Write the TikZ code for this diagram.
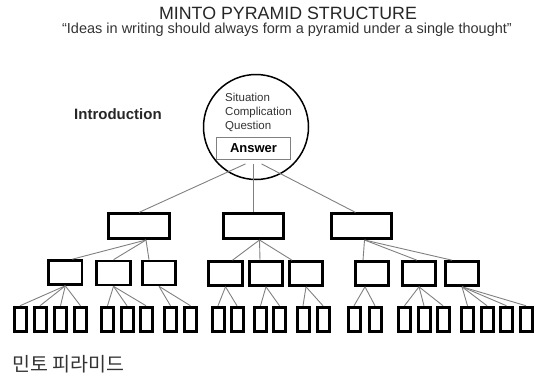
\documentclass[tikz,border=0pt]{standalone}
\usepackage{fontspec}
\setmainfont{Liberation Sans}
\newfontfamily\krfont{Noto Sans CJK KR}
\tikzset{every node/.style={inner sep=0pt},
  bigbox/.style={draw, line width=2.6pt, minimum width=60.5pt, minimum height=25pt},
  midbox/.style={draw, line width=2.6pt, minimum width=33.5pt, minimum height=24pt},
  leafbox/.style={draw, line width=3pt, minimum width=12pt, minimum height=24.5pt},
  link/.style={draw=black!50, line width=0.9pt}}

\begin{document}
\begin{tikzpicture}[x=1pt,y=-1pt]
   \useasboundingbox (0,0) rectangle (541,378);
   \node[font=\fontsize{17.8}{20}\selectfont, text=black!85] (title) at (288,13) {MINTO PYRAMID STRUCTURE};
   \node[font=\fontsize{14.5}{16}\selectfont, text=black!80, anchor=base] (motto) at (287,33.3)
        {“Ideas in writing should always form a pyramid under a single thought”};
   \node[font=\fontsize{15}{17}\selectfont\bfseries, text=black!85, anchor=base west] (intro) at (74,119) {Introduction};
   \node[font=\krfont\fontsize{19.5}{22}\selectfont, text=black!80, anchor=west] (kr) at (12,364.5) {민토 피라미드};

   \node[circle, draw, line width=1.5pt, minimum size=105pt] (top) at (256,127) {};
   \node[font=\fontsize{11.5}{14}\selectfont, text=black!80, align=left, anchor=west] (scq) at (225,112)
        {Situation\\Complication\\Question};
   \node[draw=black!50, line width=0.8pt, minimum width=74pt, minimum height=22pt,
         font=\fontsize{13}{15}\selectfont\bfseries] (ans) at (253.5,148.5) {Answer};

   \node[bigbox] (a) at (139.0,226.2) {};
   \node[bigbox] (b) at (253.5,226.2) {};
   \node[bigbox] (c) at (361.5,226.2) {};

   \node[midbox] (a1) at ( 65.3,272.5) {};
   \node[midbox] (a2) at (113.5,273.0) {};
   \node[midbox] (a3) at (159.0,273.0) {};
   \node[midbox] (b1) at (225.5,273.5) {};
   \node[midbox] (b2) at (266.0,273.5) {};
   \node[midbox] (b3) at (306.0,273.5) {};
   \node[midbox] (c1) at (372.0,273.5) {};
   \node[midbox] (c2) at (419.0,273.5) {};
   \node[midbox] (c3) at (462.0,273.5) {};

   \node[leafbox] (a11) at ( 20.0,319.5) {};
   \node[leafbox] (a12) at ( 40.0,319.5) {};
   \node[leafbox] (a13) at ( 60.5,319.5) {};
   \node[leafbox] (a14) at ( 80.5,319.5) {};
   \node[leafbox] (a21) at (107.5,319.5) {};
   \node[leafbox] (a22) at (127.0,319.5) {};
   \node[leafbox] (a23) at (146.0,319.5) {};
   \node[leafbox] (a31) at (170.5,319.5) {};
   \node[leafbox] (a32) at (190.5,319.5) {};
   \node[leafbox] (b11) at (218.0,319.5) {};
   \node[leafbox] (b12) at (237.0,319.5) {};
   \node[leafbox] (b21) at (260.5,319.5) {};
   \node[leafbox] (b22) at (279.5,319.5) {};
   \node[leafbox] (b31) at (303.0,319.5) {};
   \node[leafbox] (b32) at (323.0,319.5) {};
   \node[leafbox] (c11) at (354.0,319.5) {};
   \node[leafbox] (c12) at (375.0,319.5) {};
   \node[leafbox] (c21) at (404.5,319.5) {};
   \node[leafbox] (c22) at (424.0,319.5) {};
   \node[leafbox] (c23) at (443.0,319.5) {};
   \node[leafbox] (c31) at (467.5,319.5) {};
   \node[leafbox] (c32) at (487.0,319.5) {};
   \node[leafbox] (c33) at (506.5,319.5) {};
   \node[leafbox] (c34) at (526.0,319.5) {};

   \draw[link] ([xshift=-8pt,yshift=-4pt]ans.south) -- (a.north);
   \draw[link] ([yshift=-4pt]ans.south) -- (b.north);
   \draw[link] ([xshift=8pt,yshift=-4pt]ans.south) -- ([xshift=-6pt]c.north);

   \draw[link] ([xshift=7pt]a.south) -- ([xshift=7pt]a1.north);
   \draw[link] ([xshift=7pt]a.south) -- (a2.north);
   \draw[link] ([xshift=7pt]a.south) -- ([xshift=-10pt]a3.north);
   \draw[link] ([xshift=6pt]b.south) -- ([xshift=7pt]b1.north);
   \draw[link] ([xshift=6pt]b.south) -- ([xshift=-6pt]b2.north);
   \draw[link] ([xshift=6pt]b.south) -- ([xshift=-14pt]b3.north);
   \draw[link] ([xshift=3pt]c.south) -- ([xshift=-9pt]c1.north);
   \draw[link] ([xshift=3pt]c.south) -- ([xshift=-2pt]c2.north);
   \draw[link] ([xshift=3pt]c.south) -- ([xshift=-10pt]c3.north);

   \draw[link] (a1.south) -- (a11.north);
   \draw[link] (a1.south) -- (a12.north);
   \draw[link] (a1.south) -- (a13.north);
   \draw[link] (a1.south) -- (a14.north);
   \draw[link] (a2.south) -- (a21.north);
   \draw[link] (a2.south) -- (a22.north);
   \draw[link] (a2.south) -- (a23.north);
   \draw[link] (a3.south) -- (a31.north);
   \draw[link] (a3.south) -- (a32.north);
   \draw[link] (b1.south) -- (b11.north);
   \draw[link] (b1.south) -- (b12.north);
   \draw[link] (b2.south) -- (b21.north);
   \draw[link] (b2.south) -- (b22.north);
   \draw[link] (b3.south) -- (b31.north);
   \draw[link] (b3.south) -- (b32.north);
   \draw[link] ([xshift=-7pt]c1.south) -- (c11.north);
   \draw[link] ([xshift=-7pt]c1.south) -- (c12.north);
   \draw[link] (c2.south) -- (c21.north);
   \draw[link] (c2.south) -- (c22.north);
   \draw[link] (c2.south) -- (c23.north);
   \draw[link] (c3.south) -- (c31.north);
   \draw[link] (c3.south) -- (c32.north);
   \draw[link] (c3.south) -- (c33.north);
   \draw[link] (c3.south) -- (c34.north);
\end{tikzpicture}
\end{document}
